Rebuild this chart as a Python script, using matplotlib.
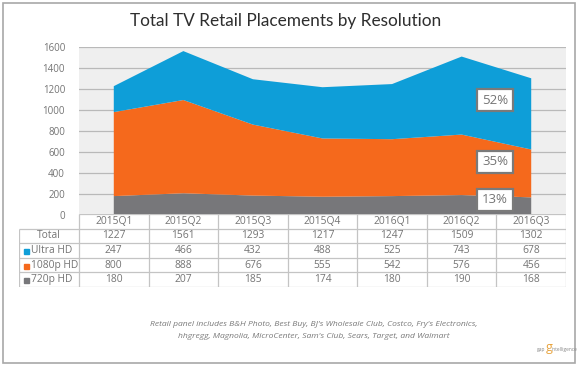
import numpy as np
import matplotlib
matplotlib.use('Agg')
import matplotlib.pyplot as plt
from matplotlib.patches import Rectangle

# Data
quarters = ['2015Q1', '2015Q2', '2015Q3', '2015Q4', '2016Q1', '2016Q2', '2016Q3']
ultra_hd = [247, 466, 432, 488, 525, 743, 678]
hd_1080 = [800, 888, 676, 555, 542, 576, 456]
hd_720 = [180, 207, 185, 174, 180, 190, 168]
totals = [1227, 1561, 1293, 1217, 1247, 1509, 1302]
yticks = [0, 200, 400, 600, 800, 1000, 1200, 1400, 1600]
footnote = ["Retail panel includes B&H Photo, Best Buy, BJ's Wholesale Club, Costco, Fry's Electronics,",
            "hhgregg, Magnolia, MicroCenter, Sam's Club, Sears, Target, and Walmart"]

c_uhd = '#0e9ed8'
c_1080 = '#f5691c'
c_720 = '#77777a'
txt = '#747474'
line_c = '#c4c4c4'

plt.rcParams['font.family'] = ['Open Sans', 'DejaVu Sans']

W, H = 580, 367
fig = plt.figure(figsize=(W / 100, H / 100), dpi=100)

def fx(px):
    return px / W

def fy(py):
    return 1 - py / H

# outer frame
fig.patches.append(Rectangle((fx(3), fy(363)), fx(575) - fx(3), fy(3) - fy(363),
                             transform=fig.transFigure, fill=False,
                             edgecolor='#a8a8a8', lw=1.2))

fig.text(fx(286), fy(21), 'Total TV Retail Placements by Resolution',
         ha='center', va='center', fontsize=12.4, color='#2e2e2e',
         family=['Lato', 'DejaVu Sans'])

# area chart
ax = fig.add_axes([fx(79), fy(215), fx(566) - fx(79), fy(47) - fy(215)])
ax.set_facecolor('#efefef')
x = np.arange(len(quarters))
ax.stackplot(x, hd_720, hd_1080, ultra_hd, colors=[c_720, c_1080, c_uhd], zorder=3)
ax.set_xlim(-0.5, len(quarters) - 0.5)
ax.set_ylim(0, 1600)
ax.set_yticks(yticks)
ax.set_xticks([])
ax.yaxis.grid(True, color='#b9b9b9', lw=0.9)
ax.set_axisbelow(True)
for s in ax.spines.values():
    s.set_visible(False)
ax.tick_params(axis='y', length=0, pad=10, labelsize=7, labelcolor=txt)

# share labels for last quarter
last = len(quarters) - 1
tot = ultra_hd[last] + hd_1080[last] + hd_720[last]
shares = [(ultra_hd[last], 1095), (hd_1080[last], 505), (hd_720[last], 143)]
for v, ypos in shares:
    ax.text(last - 1 + 0.48, ypos, f'{round(100 * v / tot)}%', ha='center', va='center',
            fontsize=9.5, color=txt, zorder=5,
            bbox=dict(boxstyle='square,pad=0.35', fc='white', ec='#7a7a7a', lw=1.6))

# data table
unit = 487 / 7
lab_w = 60 / unit
tax = fig.add_axes([fx(19), fy(287), fx(566) - fx(19), fy(214) - fy(287)])
tax.set_xlim(-0.5 - lab_w, len(quarters) - 0.5)
tax.set_ylim(5, 0)
tax.axis('off')
tax.hlines(0, -0.5, len(quarters) - 0.5, color=line_c, lw=0.9)
tax.hlines([1, 2, 3, 4, 5], -0.5 - lab_w, len(quarters) - 0.5, color=line_c, lw=0.9)
tax.vlines(np.arange(len(quarters) + 1) - 0.5, 0, 5, color=line_c, lw=0.9)
tax.vlines(-0.5 - lab_w, 1, 5, color=line_c, lw=0.9)

for i, q in enumerate(quarters):
    tax.text(i, 0.5, q, ha='center', va='center', fontsize=7.4, color=txt)

rows = [('Total', totals, None), ('Ultra HD', ultra_hd, c_uhd),
        ('1080p HD', hd_1080, c_1080), ('720p HD', hd_720, c_720)]
for r, (name, vals, col) in enumerate(rows, start=1):
    if col is None:
        tax.text(-0.5 - lab_w / 2, r + 0.5, name, ha='center', va='center',
                 fontsize=7.4, color=txt)
    else:
        tax.plot(-0.5 - lab_w + 7 / unit, r + 0.55, marker='s', ms=3.6, color=col,
                 clip_on=False)
        tax.text(-0.5 - lab_w + 12.5 / unit, r + 0.5, name, ha='left', va='center',
                 fontsize=7.4, color=txt)
    for i, v in enumerate(vals):
        tax.text(i, r + 0.5, str(v), ha='center', va='center', fontsize=7.4, color=txt)

# footnote
for k, line in enumerate(footnote):
    fig.text(fx(314), fy(325 + 12 * k), line, ha='center', va='center',
             fontsize=6.1, style='italic', color='#7a7a7a')

# logo
fig.text(fx(545), fy(351), 'gap', ha='right', va='baseline', fontsize=3.5, color='#888888')
fig.text(fx(546), fy(351), 'g', ha='left', va='baseline', fontsize=9, color='#e8a33d')
fig.text(fx(552), fy(351), 'intelligence', ha='left', va='baseline', fontsize=3.5, color='#888888')

fig.savefig('out.png', dpi=100)
